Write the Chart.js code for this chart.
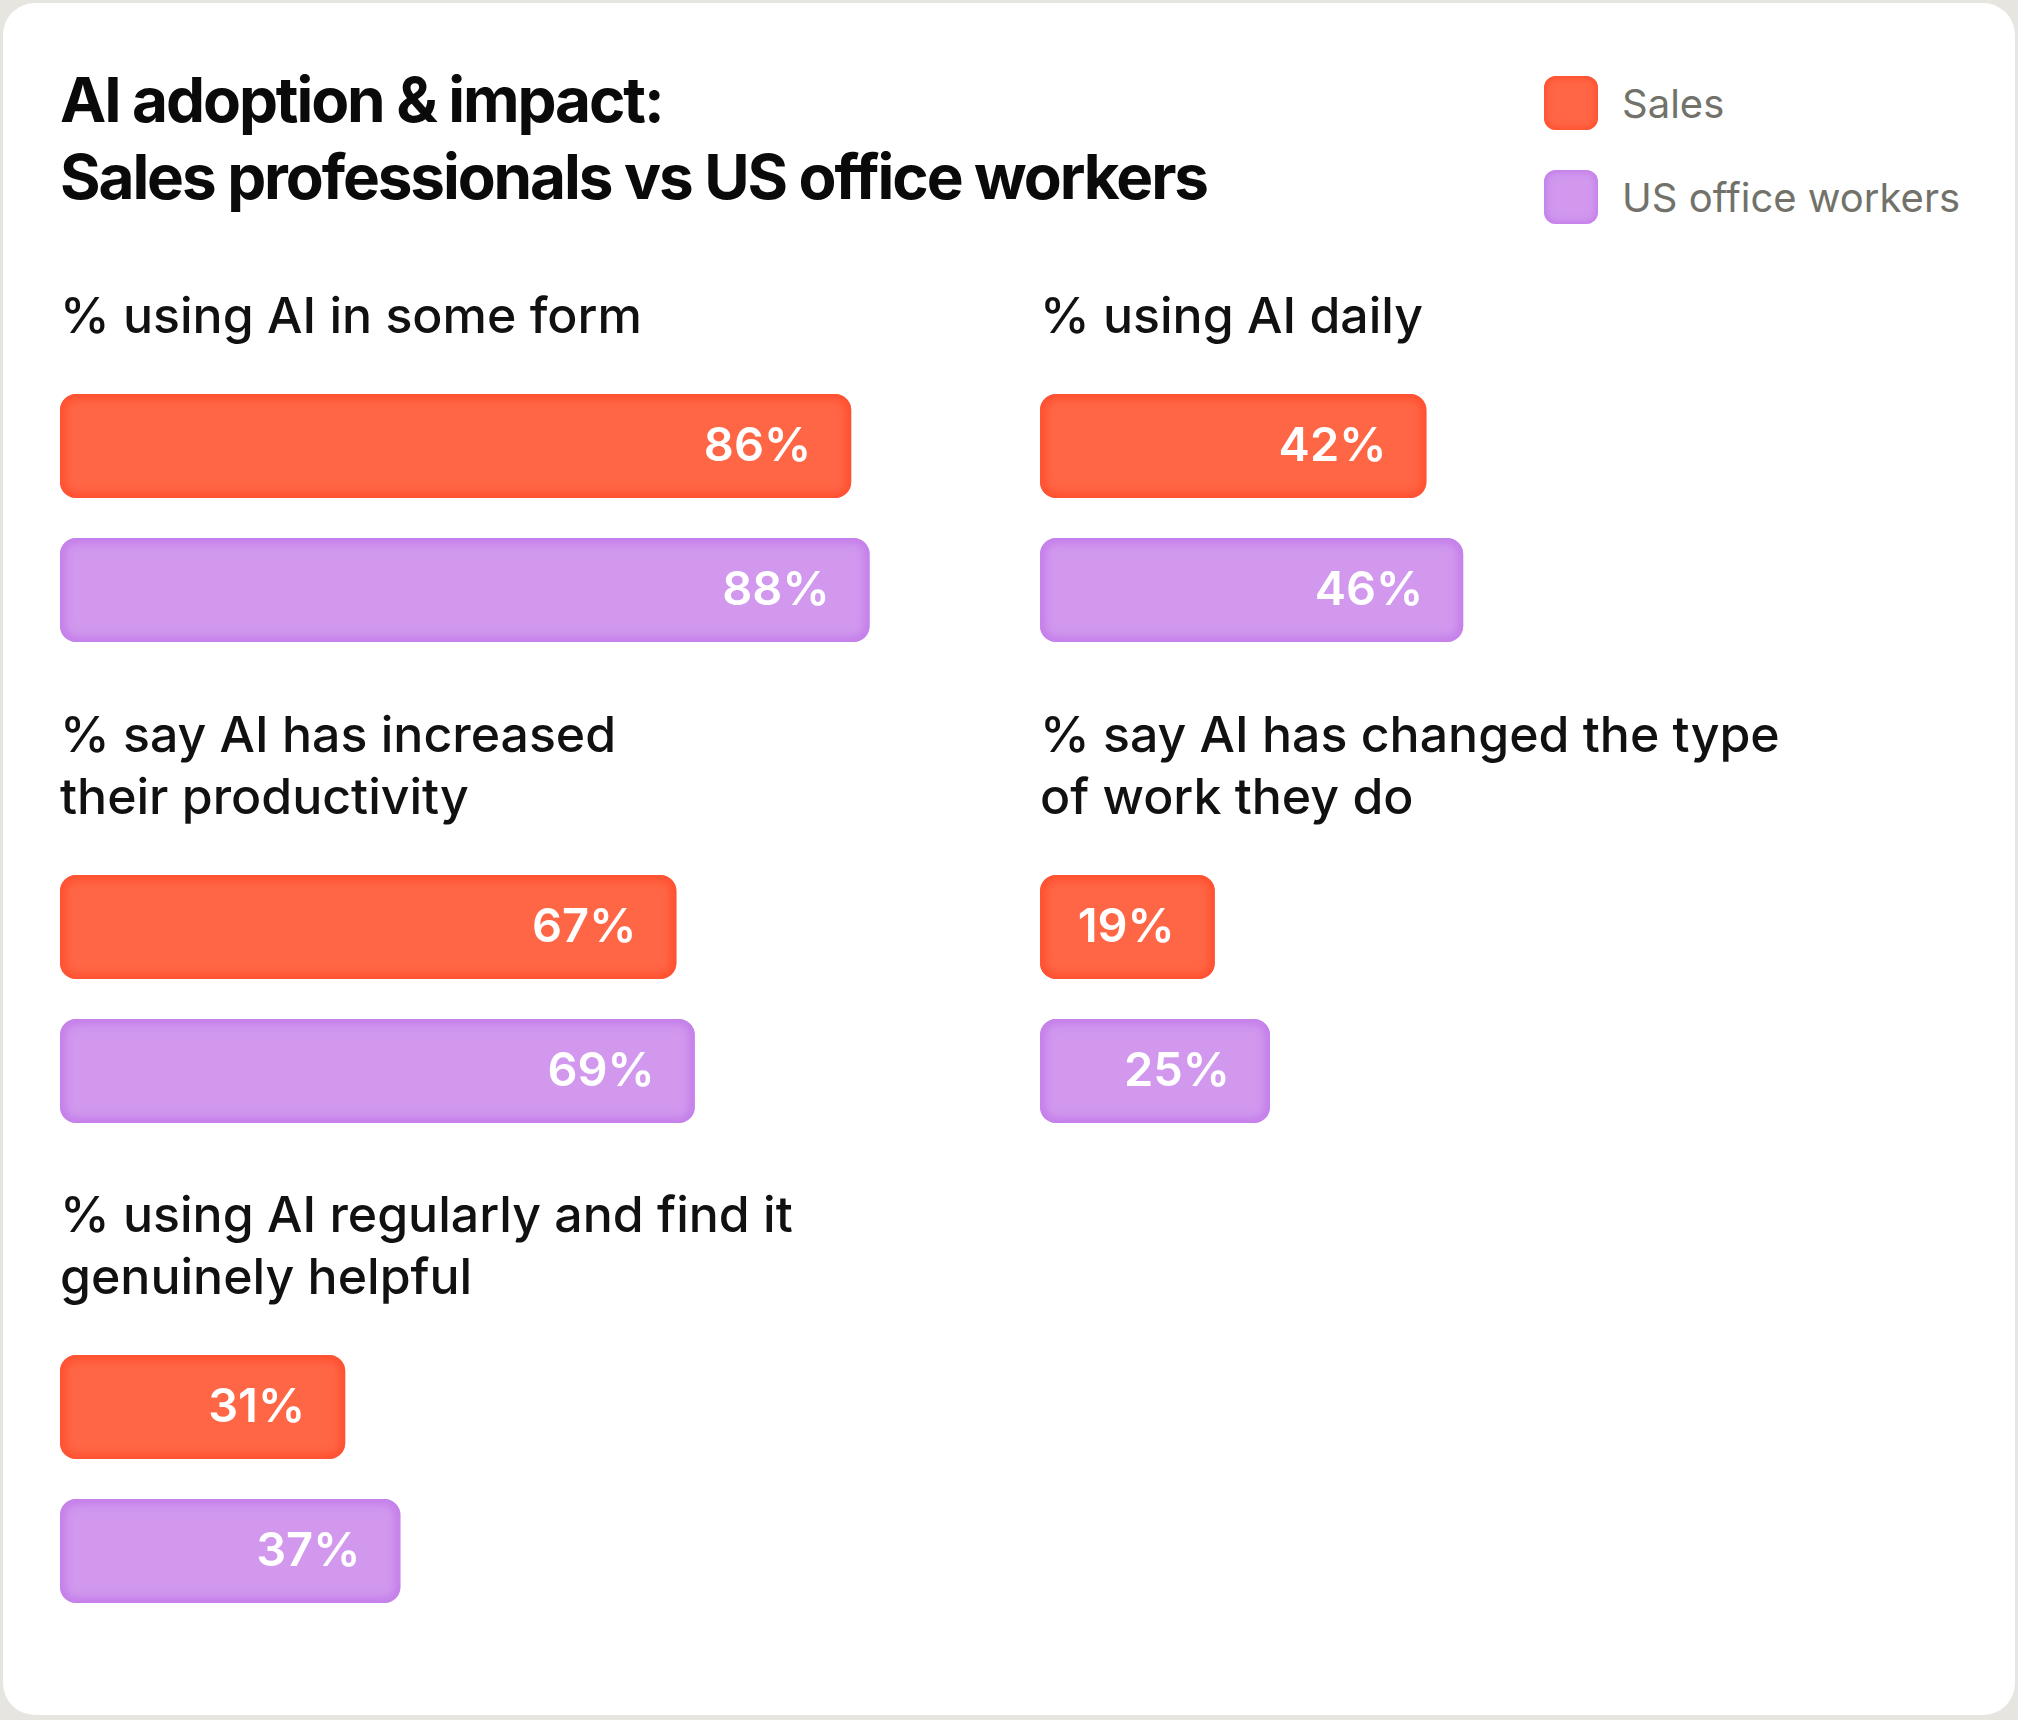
<!DOCTYPE html>
<html>
<head>
<meta charset="utf-8">
<script src="https://cdn.jsdelivr.net/npm/chart.js@4.4.1/dist/chart.umd.min.js"></script>
<style>
  html, body { margin: 0; padding: 0; }
  body {
    width: 2018px; height: 1720px;
    background: #e6e5e0;
    font-family: Inter, "Open Sans", sans-serif;
    position: relative; overflow: hidden;
  }
  .card {
    position: absolute; left: 3px; top: 3px; width: 2012px; height: 1712px;
    background: #fff; border-radius: 32px;
  }
  .title {
    position: absolute; left: 60px; top: 61px; margin: 0;
    font-size: 62px; line-height: 77px; font-weight: 700;
    letter-spacing: -2.1px; color: #0a0a0a;
  }
  .legend { position: absolute; left: 1544px; top: 76px; }
  .legend .item {
    display: flex; align-items: center; height: 54px; margin-bottom: 40px;
    font-size: 40px; color: #72726a;
  }
  .legend .swatch {
    width: 54px; height: 54px; border-radius: 12px; margin-right: 24px;
  }
  canvas.panel { position: absolute; }
</style>
</head>
<body>
<div class="card"></div>
<h1 class="title">AI adoption &amp; impact:<br>Sales professionals vs US office workers</h1>
<div class="legend" id="legend"></div>

<script>
// chart data
const questions = [
  '% using AI in some form',
  '% using AI daily',
  ['% say AI has increased', 'their productivity'],
  ['% say AI has changed the type', 'of work they do'],
  ['% using AI regularly and find it', 'genuinely helpful']
];
const seriesNames = ['Sales', 'US office workers'];
const salesValues = [86, 42, 67, 19, 31];
const officeValues = [88, 46, 69, 25, 37];

const fills = ['#ff6645', '#d198ee'];
const edges = ['#ff4d2e', '#c27be9'];

// where each small chart sits on the page
const panels = [
  { left: 60, top: 287 },
  { left: 1040, top: 287 },
  { left: 60, top: 706 },
  { left: 1040, top: 706 },
  { left: 60, top: 1186 }
];

// legend (html)
const legend = document.getElementById('legend');
seriesNames.forEach(function (name, i) {
  const item = document.createElement('div');
  item.className = 'item';
  const sw = document.createElement('div');
  sw.className = 'swatch';
  sw.style.background = fills[i];
  sw.style.boxShadow = 'inset 0 0 7px 2px ' + edges[i];
  item.appendChild(sw);
  item.appendChild(document.createTextNode(name));
  legend.appendChild(item);
});

const RADIUS = 16;

// soft darker rim inside each bar, like the painted look of the original
const innerGlow = {
  id: 'innerGlow',
  afterDatasetsDraw(chart) {
    const ctx = chart.ctx;
    chart.data.datasets.forEach(function (ds, i) {
      chart.getDatasetMeta(i).data.forEach(function (bar) {
        const p = bar.getProps(['x', 'y', 'base', 'height'], true);
        const left = Math.min(p.base, p.x), w = Math.abs(p.x - p.base);
        const top = p.y - p.height / 2;
        ctx.save();
        ctx.beginPath();
        ctx.roundRect(left, top, w, p.height, RADIUS);
        ctx.clip();
        ctx.filter = 'blur(4px)';
        ctx.lineWidth = 10;
        ctx.strokeStyle = edges[i];
        ctx.beginPath();
        ctx.roundRect(left, top, w, p.height, RADIUS);
        ctx.stroke();
        ctx.restore();
      });
    });
  }
};

// value labels inside bar ends
const valueLabels = {
  id: 'valueLabels',
  afterDatasetsDraw(chart) {
    const ctx = chart.ctx;
    ctx.save();
    ctx.font = '600 47px Inter, sans-serif';
    ctx.fillStyle = '#ffffff';
    ctx.textAlign = 'right';
    ctx.textBaseline = 'middle';
    chart.data.datasets.forEach(function (ds, i) {
      chart.getDatasetMeta(i).data.forEach(function (bar, j) {
        ctx.fillText(ds.data[j] + '%', bar.x - 40, bar.y + 1);
      });
    });
    ctx.restore();
  }
};

const BAR_AREA = 288;
const LINE_H = 62;

questions.forEach(function (q, i) {
  const lines = Array.isArray(q) ? q.length : 1;
  const canvas = document.createElement('canvas');
  canvas.className = 'panel';
  const w = 940;
  const h = lines * LINE_H + 25 + BAR_AREA;
  canvas.width = w;
  canvas.height = h;
  canvas.style.left = panels[i].left + 'px';
  canvas.style.top = panels[i].top + 'px';
  document.body.appendChild(canvas);

  new Chart(canvas.getContext('2d'), {
    type: 'bar',
    data: {
      labels: [q],
      datasets: [
        {
          label: seriesNames[0],
          data: [salesValues[i]],
          backgroundColor: fills[0],
          borderWidth: 0,
          borderRadius: RADIUS,
          borderSkipped: false
        },
        {
          label: seriesNames[1],
          data: [officeValues[i]],
          backgroundColor: fills[1],
          borderWidth: 0,
          borderRadius: RADIUS,
          borderSkipped: false
        }
      ]
    },
    options: {
      indexAxis: 'y',
      responsive: false,
      animation: false,
      devicePixelRatio: 1,
      categoryPercentage: 1,
      barPercentage: 104 / 144,
      layout: { padding: { right: 20 } },
      plugins: {
        legend: { display: false },
        tooltip: { enabled: false },
        title: {
          display: true,
          text: q,
          align: 'start',
          color: '#111111',
          font: { family: 'Inter', size: 50, weight: '500', lineHeight: LINE_H + 'px' },
          padding: { top: 0, bottom: 25 }
        }
      },
      scales: {
        x: { display: false, min: 0, max: 100 },
        y: { display: false }
      }
    },
    plugins: [innerGlow, valueLabels]
  });
});
</script>
</body>
</html>
